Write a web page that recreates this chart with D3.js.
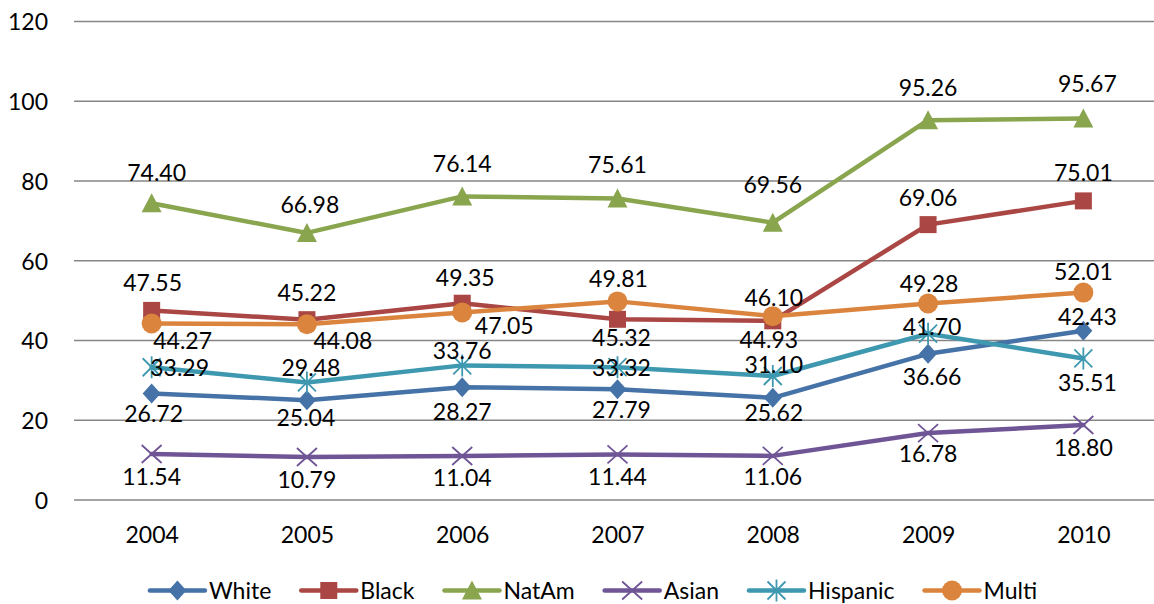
<!DOCTYPE html>
<html><head><meta charset="utf-8">
<script src="https://cdn.jsdelivr.net/npm/d3@7"></script>
<style>
html,body{margin:0;padding:0;background:#fff;}
svg{display:block;font-family:Lato,"Liberation Sans",sans-serif;}
</style></head>
<body>
<svg id="chart" width="1154" height="604"></svg>
<script>
// ---- data ----
const years = ["2004","2005","2006","2007","2008","2009","2010"];
const seriesNames = ["White","Black","NatAm","Asian","Hispanic","Multi"];
const white    = [26.72, 25.04, 28.27, 27.79, 25.62, 36.66, 42.43];
const black    = [47.55, 45.22, 49.35, 45.32, 44.93, 69.06, 75.01];
const natAm    = [74.40, 66.98, 76.14, 75.61, 69.56, 95.26, 95.67];
const asian    = [11.54, 10.79, 11.04, 11.44, 11.06, 16.78, 18.80];
const hispanic = [33.29, 29.48, 33.76, 33.32, 31.10, 41.70, 35.51];
const multi    = [44.27, 44.08, 47.05, 49.81, 46.10, 49.28, 52.01];
const yTicks = [0, 20, 40, 60, 80, 100, 120];

// ---- layout / style ----
const W = 1154, H = 604;
const plot = {left: 74, right: 1161, top: 21.5, bottom: 500};
const colors = ["#4572A7", "#AA4643", "#89A54E", "#6F5596", "#3D98B0", "#DB843D"];
const markers = ["diamond", "square", "triangle", "x", "star", "circle"];
const fontSize = 23;
// label offsets from marker centre (layout only)
const labelOffsets = [
  [[2,20],[-1,18],[0,24],[4,21],[1,15],[4,23],[4,-14]],
  [[1,-28],[0,-27],[3,-25],[4,18],[-4,19],[0,-27],[0,-28]],
  [[5,-31],[3,-28],[0,-33],[0,-34],[0,-38],[0,-32],[4,-35]],
  [[0,23],[0,23],[0,22],[0,22],[0,21],[0,21],[0,23]],
  [[28,0],[4,-15],[0,-15],[4,1],[1,-11],[4,-7],[4,24]],
  [[31,17],[36,16],[42,13],[1,-23],[1,-18],[1,-20],[0,-21]]
];

const values = [white, black, natAm, asian, hispanic, multi];
const series = seriesNames.map((name, i) => ({name, color: colors[i], marker: markers[i],
  points: years.map((y, j) => ({year: y, value: values[i][j], off: labelOffsets[i][j]}))}));

const svg = d3.select("#chart");
const x = d3.scalePoint().domain(years).range([plot.left, plot.right]).padding(0.5);
const y = d3.scaleLinear().domain([0, 120]).range([plot.bottom, plot.top]);

// gridlines
svg.append("g").selectAll("line").data(yTicks).join("line")
  .attr("x1", plot.left).attr("x2", plot.right)
  .attr("y1", d => y(d)).attr("y2", d => y(d))
  .attr("stroke", "#868686").attr("stroke-width", 1.3);

// y axis labels
const yAxis = d3.axisLeft(y).tickValues(yTicks).tickSize(0).tickPadding(0);
const gy = svg.append("g").attr("transform", `translate(${48},0)`).call(yAxis);
gy.select(".domain").remove();
gy.selectAll("text").attr("font-size", fontSize).attr("font-family", "Lato").attr("fill", "#000")
  .attr("dy", "0.36em");

// x axis labels
const xAxis = d3.axisBottom(x).tickSize(0).tickPadding(0);
const gx = svg.append("g").attr("transform", `translate(0,${535})`).call(xAxis);
gx.select(".domain").remove();
gx.selectAll("text").attr("font-size", fontSize).attr("font-family", "Lato").attr("fill", "#000")
  .attr("dy", "0.36em");

function drawMarker(g, type, color) {
  if (type === "diamond") {
    g.append("path").attr("d", "M0,-10L9,0L0,10L-9,0Z").attr("fill", color);
  } else if (type === "square") {
    g.append("rect").attr("x", -8.5).attr("y", -8.5).attr("width", 17).attr("height", 17).attr("fill", color);
  } else if (type === "triangle") {
    g.append("path").attr("d", "M0,-10L10,9L-10,9Z").attr("fill", color);
  } else if (type === "circle") {
    g.append("circle").attr("r", 10).attr("fill", color);
  } else if (type === "x") {
    g.append("path").attr("d", "M-10,-9L10,9M-10,9L10,-9").attr("stroke", color).attr("stroke-width", 1.8).attr("fill", "none");
  } else if (type === "star") {
    g.append("path").attr("d", "M-9,-9L9,9M-9,9L9,-9M0,-11L0,11").attr("stroke", color).attr("stroke-width", 1.8).attr("fill", "none");
  }
}

const line = d3.line().x(d => x(d.year)).y(d => y(d.value));

// series
series.forEach(s => {
  const g = svg.append("g");
  g.append("path").datum(s.points).attr("d", line)
    .attr("fill", "none").attr("stroke", s.color).attr("stroke-width", 4.5)
    .attr("stroke-linejoin", "round").attr("stroke-linecap", "round");
  s.points.forEach(p => {
    const mg = g.append("g").attr("transform", `translate(${x(p.year)},${y(p.value)})`);
    drawMarker(mg, s.marker, s.color);
  });
});

// data labels
series.forEach(s => {
  svg.append("g").selectAll("text").data(s.points).join("text")
    .attr("x", d => x(d.year) + d.off[0])
    .attr("y", d => y(d.value) + d.off[1])
    .attr("dy", "0.36em")
    .attr("text-anchor", "middle")
    .attr("font-size", fontSize).attr("fill", "#000")
    .text(d => d.value.toFixed(2));
});

// legend
const legend = svg.append("g");
const lineLen = 55, textGap = 4, itemGap = 30;
let items = [];
let cx = 0;
series.forEach(s => {
  const g = legend.append("g");
  g.append("line").attr("x1", 0).attr("x2", lineLen).attr("y1", 0).attr("y2", 0)
    .attr("stroke", s.color).attr("stroke-width", 4.5).attr("stroke-linecap", "round");
  const mg = g.append("g").attr("transform", `translate(${lineLen/2},0)`);
  drawMarker(mg, s.marker, s.color);
  const t = g.append("text").attr("x", lineLen + textGap).attr("y", 0).attr("dy", "0.36em")
    .attr("font-size", fontSize).attr("fill", "#000").text(s.name);
  const tw = t.node().getComputedTextLength();
  items.push({g, start: cx});
  cx += lineLen + textGap + tw + itemGap;
});
const totalW = cx - itemGap;
const legendStart = 593.5 - totalW / 2;
items.forEach(it => it.g.attr("transform", `translate(${legendStart + it.start},${590.5})`));
</script>
</body></html>
